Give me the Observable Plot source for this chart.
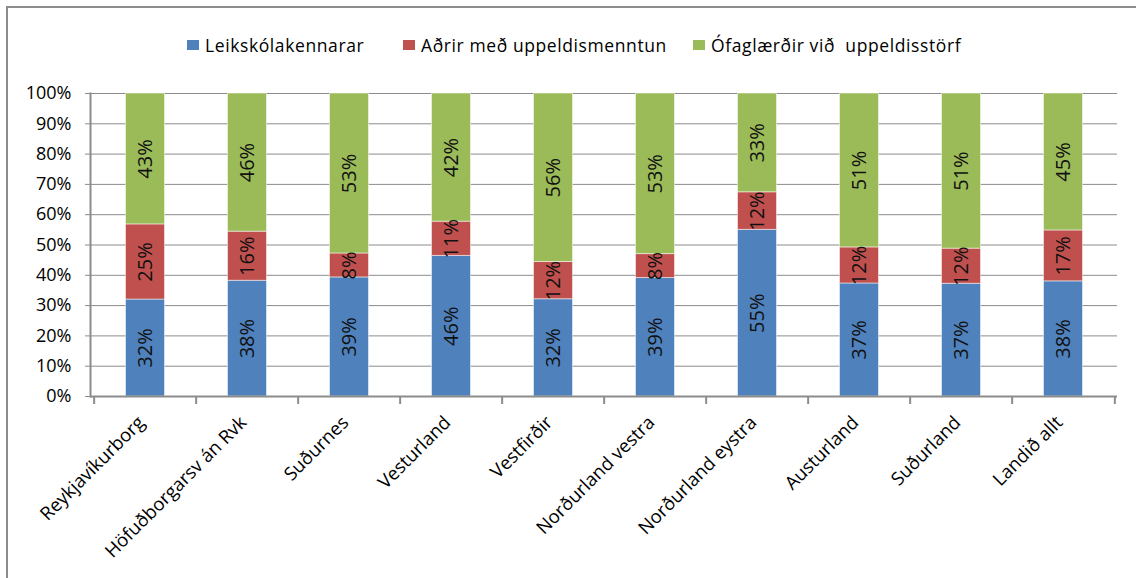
<!DOCTYPE html>
<html><head><meta charset="utf-8">
<script src="https://cdn.jsdelivr.net/npm/d3@7"></script>
<script src="https://cdn.jsdelivr.net/npm/@observablehq/plot@0.6"></script>
<style>
body{margin:0;background:#fff;font-family:"Open Sans",sans-serif;}
#wrap{position:relative;width:1136px;height:578px;overflow:hidden;background:#fff;}
#border{position:absolute;left:6px;top:6px;width:1150px;height:620px;border:2px solid #8c8c8c;box-sizing:border-box;}
#chart{position:absolute;left:0;top:0;}
.item{position:absolute;top:33px;display:flex;align-items:center;font-size:17.5px;letter-spacing:0.6px;color:#000;white-space:pre;}
.sw{width:12px;height:10px;margin-right:6px;display:inline-block;}
</style></head>
<body>
<div id="wrap"><div id="border"></div><div id="chart"></div><div id="legend"></div></div>
<script>
const categories = ["Reykjavíkurborg","Höfuðborgarsv án Rvk","Suðurnes","Vesturland","Vestfirðir","Norðurland vestra","Norðurland eystra","Austurland","Suðurland","Landið allt"];
const series = ["Leikskólakennarar","Aðrir með uppeldismenntun","Ófaglærðir við  uppeldisstörf"];
const leikskolakennarar = [32.0,38.2,39.3,46.4,32.1,39.1,55.0,37.3,37.2,38.0];
const adrir = [24.8,16.2,7.9,11.3,12.3,7.9,12.4,11.9,11.6,16.8];
const ofaglaerdir = [43.2,45.6,52.8,42.3,55.6,53.0,32.6,50.8,51.2,45.2];
const yTicks = [0,10,20,30,40,50,60,70,80,90,100];
const colors = ["#4F81BD","#C0504D","#9BBB59"];

const seriesValues = [leikskolakennarar, adrir, ofaglaerdir];
const data = [];
categories.forEach((c, i) => series.forEach((s, j) => data.push({category: c, series: s, value: seriesValues[j][i]})));

const gray = "#8c8c8c";
const chart = Plot.plot({
  width: 1136, height: 578,
  marginLeft: 90, marginRight: 19, marginTop: 93, marginBottom: 182,
  style: {fontFamily: "'Open Sans', sans-serif", color: "#000", background: "transparent"},
  x: {domain: categories, padding: 0, label: null},
  y: {domain: [0, 100], label: null},
  color: {domain: series, range: colors},
  marks: [
    Plot.gridY(yTicks, {stroke: gray, strokeOpacity: 1}),
    Plot.barY(data, {x: "category", y: "value", fill: "series", insetLeft: 31.5, insetRight: 31.5, stroke: "#fff", strokeOpacity: 0.5, strokeWidth: 1}),
    Plot.text(data, Plot.stackY({x: "category", y: "value", z: "series", text: d => Math.round(d.value) + "%", rotate: -90, fontSize: 20, fill: "#111"})),
    Plot.ruleY([0], {stroke: gray, strokeWidth: 2}),
    Plot.frame({anchor: "left", stroke: gray, strokeWidth: 2}),
    Plot.axisY(yTicks, {tickSize: 5, tickPadding: 14, fontSize: 18, stroke: gray, tickFormat: d => d + "%", label: null}),
    Plot.axisX({tickSize: 0, tickRotate: -45, tickPadding: 20, fontSize: 18.5, dx: -4, dy: 3, label: null}),
    Plot.axisX({tickSize: 8, text: null, dx: -51.35, stroke: gray, strokeWidth: 2, label: null}),
    Plot.axisX([categories[categories.length - 1]], {tickSize: 8, text: null, dx: 51.35, stroke: gray, strokeWidth: 2, label: null})
  ]
});
document.getElementById("chart").appendChild(chart);

const legendLeft = [187, 403, 693];
const legend = document.getElementById("legend");
series.forEach((s, i) => {
  const it = document.createElement("div");
  it.className = "item";
  it.style.left = legendLeft[i] + "px";
  it.innerHTML = `<span class="sw" style="background:${colors[i]}"></span><span>${s}</span>`;
  legend.appendChild(it);
});
</script>
</body></html>
